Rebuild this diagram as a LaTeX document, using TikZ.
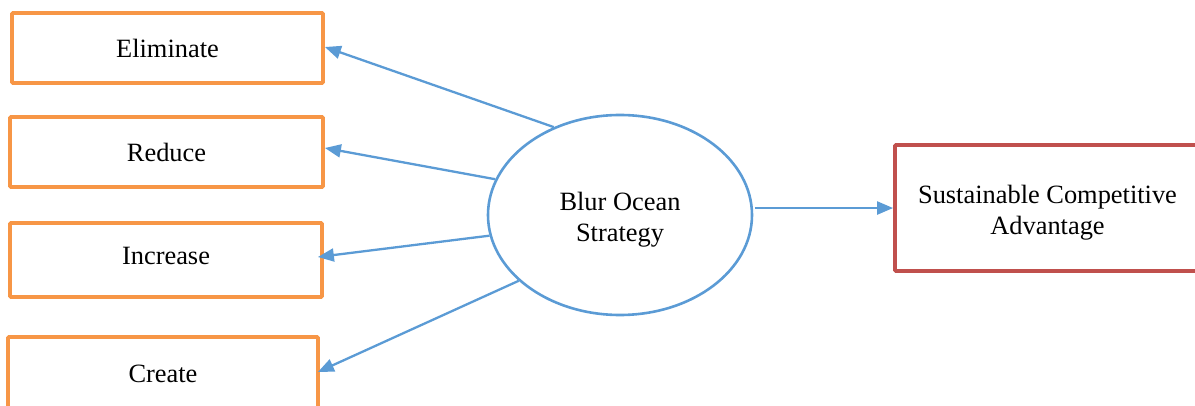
\documentclass[tikz,border=0pt]{standalone}
\usepackage{fontspec}
\setmainfont{Liberation Serif}
\usetikzlibrary{arrows.meta,shapes.geometric}
\definecolor{boxorange}{HTML}{F79646}
\definecolor{linkblue}{HTML}{5B9BD5}
\definecolor{boxred}{HTML}{C0504D}
\begin{document}
\begin{tikzpicture}[x=1pt,y=-1pt,
  every node/.style={font=\fontsize{26.4}{31}\selectfont, align=center},
  every label/.style={font=\fontsize{26.4}{31}\selectfont, align=center},
  actionbox/.style={draw=boxorange, line width=3.8pt, rounded corners=1pt, inner sep=0pt},
  resultbox/.style={draw=boxred, line width=3.8pt, rounded corners=1pt, inner sep=0pt,
                    minimum width=305pt, minimum height=126pt},
  strategy/.style={ellipse, draw=linkblue, line width=2.6pt, inner sep=0pt,
                   minimum width=264pt, minimum height=200pt},
  link/.style={draw=linkblue, line width=2.3pt,
               -{Triangle[length=16pt,width=13pt]}}]
\useasboundingbox (0,0) rectangle (1195,406);

% four action boxes
\node[actionbox, minimum width=311pt, minimum height=70pt] (elim) at (167.5,48) {Eliminate};
\node[actionbox, minimum width=313pt, minimum height=70pt] (redu) at (166.5,152) {Reduce};
\node[actionbox, minimum width=312pt, minimum height=74pt,
      label={[yshift=4pt]center:Increase}] (incr) at (166,260) {};
\node[actionbox, minimum width=310pt, minimum height=74pt] (crea) at (163,374) {Create};

% central strategy and outcome
\node[strategy, label={[yshift=-4.5pt]center:Blur Ocean\\Strategy}] (bos) at (620,215) {};
\node[resultbox, label={[yshift=-5pt]center:Sustainable Competitive\\Advantage}] (sca) at (1047.5,208) {};

% connectors
\draw[link] (bos.127.8) -- ([yshift=1pt]elim.east);
\draw[link] (bos.164.4) -- ([yshift=4pt]redu.east);
\draw[link] (bos.189.1) -- ([xshift=-6pt,yshift=3pt]incr.east);
\draw[link] (bos.213.3) -- ([xshift=-2pt,yshift=2pt]crea.east);
\coordinate (bosout) at ([xshift=2pt]bos.3.9);
\draw[link] (bosout) -- (sca.west |- bosout);
\end{tikzpicture}
\end{document}
